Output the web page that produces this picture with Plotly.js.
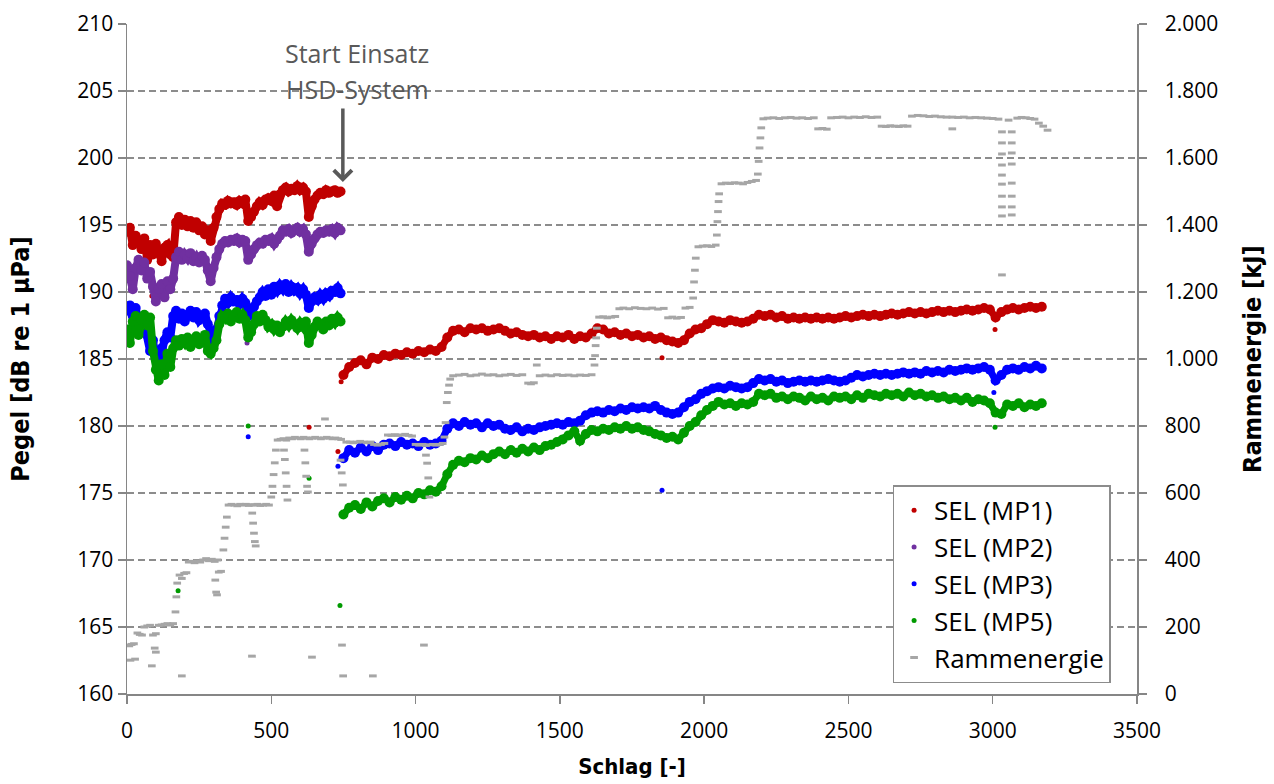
<!DOCTYPE html>
<html>
<head>
<meta charset="utf-8">
<script src="https://cdn.plot.ly/plotly-3.0.1.min.js"></script>
<style>
html,body{margin:0;padding:0;background:#fff;}
#chart{width:1274px;height:784px;}
</style>
</head>
<body>
<div id="chart"></div>
<script>
// ---- Schlag (strike number) grids ----
const schlag1 = [0,10,20,30,40,50,60,70,80,90,100,110,120,130,140,150,160,170,180,190,
  200,210,220,230,240,250,260,270,280,290,300,310,320,330,340,350,360,370,380,390,
  400,410,420,430,440,450,460,470,480,490,500,510,520,530,540,550,560,570,580,590,
  600,610,620,630,640,650,660,670,680,690,700,710,720,730,740];

const schlag2 = [750,770,790,810,830,850,870,890,910,930,
  950,970,990,1010,1030,1050,1070,1090,1110,1130,
  1150,1170,1190,1210,1230,1250,1270,1290,1310,1330,
  1350,1370,1390,1410,1430,1450,1470,1490,1510,1530,
  1550,1570,1590,1610,1630,1650,1670,1690,1710,1730,
  1750,1770,1790,1810,1830,1850,1870,1890,1910,1930,
  1950,1970,1990,2010,2030,2050,2070,2090,2110,2130,
  2150,2170,2190,2210,2230,2250,2270,2290,2310,2330,
  2350,2370,2390,2410,2430,2450,2470,2490,2510,2530,
  2550,2570,2590,2610,2630,2650,2670,2690,2710,2730,
  2750,2770,2790,2810,2830,2850,2870,2890,2910,2930,
  2950,2970,2990,3010,3030,3050,3070,3090,3110,3130,
  3150,3170];

// ---- SEL values, before HSD system (dB re 1 µPa) ----
const sel_mp1_a = [194.5,194.8,193.5,194.2,193.8,193.2,194.0,192.4,193.5,192.8,
  193.6,193.0,192.3,193.3,193.5,192.8,192.6,195.2,195.6,195.0,
  195.4,194.9,195.3,194.8,195.2,194.6,194.9,194.3,194.6,193.8,
  194.8,195.6,196.2,196.6,196.5,196.8,196.6,196.7,196.5,196.8,
  196.6,196.9,195.3,195.6,196.0,196.4,196.7,196.5,196.9,197.0,
  196.8,197.2,196.4,197.3,197.6,197.8,197.5,197.7,197.6,197.9,
  197.6,197.8,197.5,195.6,196.4,196.9,197.2,197.4,197.3,197.6,
  197.4,197.5,197.6,197.4,197.5];
const sel_mp2_a = [192.0,191.2,190.2,191.8,192.4,191.6,192.2,191.0,191.5,190.4,
  189.3,190.2,190.6,189.6,190.8,190.2,191.0,192.6,193.0,192.4,
  192.8,192.5,192.9,192.3,192.6,192.2,192.7,192.4,191.6,190.8,
  191.8,192.6,193.2,193.6,193.8,193.7,193.9,193.8,194.0,193.7,
  193.9,193.8,192.4,192.8,193.2,193.5,193.7,193.6,193.9,193.8,
  194.0,193.6,193.9,194.2,194.6,194.5,194.7,194.4,194.6,194.8,
  194.5,194.7,194.3,193.0,193.6,194.0,194.3,194.5,194.4,194.6,
  194.5,194.7,194.4,194.8,194.6];
const sel_mp3_a = [188.6,189.0,188.2,188.8,187.8,187.2,187.6,186.8,185.6,186.4,
  185.0,184.6,185.8,186.4,187.0,186.6,188.2,188.6,188.0,188.4,
  187.8,188.3,188.6,188.1,188.5,187.9,188.2,188.4,187.6,186.8,
  186.4,187.2,188.2,189.0,189.5,189.2,189.6,189.3,189.4,189.1,
  189.5,189.2,188.2,188.6,188.9,189.3,189.6,190.0,189.7,190.2,
  189.8,190.4,190.1,190.5,190.2,190.6,190.0,190.4,190.1,190.3,
  189.9,190.2,189.8,188.8,189.3,189.6,189.4,189.8,189.5,189.9,
  189.7,190.1,190.0,190.3,189.9];
const sel_mp5_a = [187.2,186.2,187.8,188.2,186.8,187.9,188.3,187.5,188.1,185.6,
  184.2,183.4,184.6,183.8,185.4,184.4,185.8,186.4,186.0,186.5,
  186.2,186.6,185.9,186.3,186.7,186.1,186.5,186.8,185.6,185.4,
  185.8,186.4,187.6,188.2,188.0,188.4,187.8,188.2,188.5,188.0,
  188.3,187.9,186.6,187.0,187.6,188.2,187.8,188.3,187.9,187.4,
  187.6,187.2,187.5,187.0,187.4,187.8,187.5,187.9,187.6,187.3,
  187.7,187.4,187.8,186.2,186.8,187.4,187.8,187.5,187.2,187.8,
  187.5,188.0,187.7,188.1,187.8];

// ---- SEL values, with HSD system ----
const sel_mp1_b = [183.8,184.4,184.7,184.9,184.6,185.1,185.0,185.3,185.2,185.4,
  185.3,185.5,185.4,185.6,185.5,185.7,185.6,185.9,186.6,187.1,
  187.2,187.0,187.3,187.2,187.3,187.1,187.2,187.3,187.1,186.9,
  187.0,186.8,186.7,186.8,186.6,186.7,186.5,186.7,186.6,186.8,
  186.5,186.7,186.6,186.9,187.3,187.2,186.9,187.0,186.8,186.9,
  186.7,186.8,186.6,186.7,186.5,186.6,186.4,186.3,186.2,186.4,
  186.9,187.2,187.3,187.6,187.9,187.8,187.7,187.9,187.8,187.7,
  187.8,188.0,188.3,188.2,188.3,188.1,188.2,188.0,188.1,188.0,
  188.1,188.0,188.1,188.0,188.1,188.0,188.1,188.2,188.1,188.2,
  188.3,188.2,188.3,188.2,188.3,188.4,188.3,188.4,188.5,188.4,
  188.5,188.4,188.5,188.6,188.5,188.6,188.5,188.6,188.7,188.6,
  188.7,188.8,188.7,188.1,188.5,188.7,188.8,188.7,188.8,188.9,
  188.8,188.9];
const sel_mp3_b = [177.6,178.2,178.0,178.4,178.1,178.5,178.2,178.6,178.7,178.5,
  178.8,178.6,178.7,178.5,178.8,178.6,178.7,178.9,179.8,180.2,
  180.0,180.3,180.1,180.2,179.9,180.2,180.0,180.1,179.8,179.7,
  179.9,179.6,179.8,179.7,179.9,180.0,180.1,180.2,180.1,180.3,
  180.2,180.4,180.8,181.0,181.1,181.0,181.2,181.1,181.3,181.2,
  181.4,181.3,181.4,181.3,181.5,181.2,181.0,180.9,181.0,181.4,
  181.8,182.0,182.4,182.6,182.8,182.9,182.8,183.0,182.9,182.8,
  182.9,183.2,183.5,183.4,183.5,183.3,183.4,183.2,183.3,183.4,
  183.3,183.4,183.3,183.4,183.5,183.4,183.3,183.4,183.6,183.8,
  183.7,183.8,183.9,183.8,183.9,183.8,183.9,184.0,183.9,184.0,
  183.9,184.1,184.0,184.1,184.0,184.2,184.1,184.2,184.3,184.2,
  184.3,184.4,184.2,183.4,183.8,184.2,184.3,184.2,184.4,184.3,
  184.5,184.3];
const sel_mp5_b = [173.4,173.9,174.1,173.8,174.3,174.0,174.4,174.6,174.3,174.7,
  174.5,174.8,174.6,175.0,174.9,175.2,175.1,175.5,176.4,177.1,
  177.4,177.3,177.6,177.5,177.8,177.6,177.9,178.1,177.9,178.2,
  178.0,178.3,178.1,178.4,178.2,178.5,178.6,178.8,179.0,179.3,
  179.6,178.9,179.4,179.7,179.6,179.8,179.7,179.9,179.8,180.0,
  179.8,179.9,179.7,179.6,179.4,179.3,179.1,179.2,179.0,179.5,
  180.0,180.3,180.8,181.2,181.5,181.8,181.6,181.7,181.5,181.7,
  181.6,181.8,182.4,182.3,182.4,182.1,182.2,182.0,182.2,182.1,
  181.9,182.2,182.0,182.1,181.9,182.2,182.1,182.2,182.0,182.3,
  182.1,182.4,182.3,182.2,182.4,182.3,182.4,182.2,182.5,182.3,
  182.4,182.2,182.3,182.1,182.2,182.0,182.1,181.9,182.1,181.8,
  182.0,181.9,181.7,181.0,180.9,181.6,181.5,181.7,181.4,181.6,
  181.5,181.7];

// ---- isolated SEL readings ----
const out_mp1_x = [86, 415, 631, 731, 742, 1854, 3008];
const out_mp1_y = [189.7, 188.5, 179.9, 178.1, 183.3, 185.1, 187.2];
const out_mp2_x = [416];
const out_mp2_y = [186.2];
const out_mp3_x = [420, 731, 1854, 3004];
const out_mp3_y = [179.2, 177.0, 175.2, 182.5];
const out_mp5_x = [177, 420, 631, 738, 3008];
const out_mp5_y = [167.7, 180.0, 176.1, 166.6, 179.9];

// ---- Rammenergie (kJ) ----
const ram_schlag = [0,8,16,24,12,28,36,44,52,60,
  70,80,90,100,110,120,130,140,150,96,
  100,86,160,168,171,174,182,190,198,206,
  214,224,234,244,254,264,274,284,294,304,
  314,306,309,312,318,326,334,338,342,346,
  352,362,372,382,392,402,412,422,432,442,
  452,462,472,482,492,434,437,440,443,446,
  500,504,508,512,516,522,532,542,552,562,
  572,582,592,602,612,622,632,642,652,662,
  672,682,692,702,712,722,732,742,544,547,
  550,553,556,615,618,621,624,627,686,740,
  744,748,760,772,784,796,808,820,832,844,
  856,868,880,892,904,916,928,940,952,964,
  976,988,1000,1012,1024,1036,1048,1060,1072,1084,
  1094,1036,1040,1044,1048,1100,1104,1108,1112,1116,
  1120,1130,1150,1170,1190,1210,1230,1250,1270,1290,
  1310,1330,1350,1370,1390,1400,1410,1420,1430,1450,
  1470,1490,1510,1530,1550,1570,1590,1610,1620,1622,
  1624,1626,1628,1636,1650,1664,1678,1692,1706,1720,
  1740,1760,1780,1800,1820,1840,1860,1875,1890,1905,
  1920,1935,1950,1962,1965,1968,1971,1980,1995,2010,
  2025,2040,2044,2046,2048,2050,2052,2060,2075,2090,
  2105,2120,2135,2150,2165,2180,2186,2189,2192,2195,
  2198,2205,2220,2240,2260,2280,2300,2320,2340,2360,
  2380,2395,2410,2425,2440,2460,2480,2500,2520,2540,
  2560,2580,2600,2615,2630,2645,2660,2675,2690,2705,
  2720,2740,2760,2780,2800,2820,2840,2860,2860,2880,
  2900,2920,2940,2960,2980,3000,3020,3032,3032,3032,
  3032,3032,3032,3032,3032,3032,3032,3066,3066,3066,
  3066,3066,3066,3066,3066,3055,3085,3100,3115,3130,
  3145,3160,3175,3190,190,433,641,745,749,852,
  1029];
const ram_energie = [146,144,148,150,101,104,182,178,176,200,
  203,205,176,180,205,206,208,210,206,137,
  125,84,210,245,290,331,355,345,360,362,
  394,396,392,397,394,400,404,398,402,396,
  400,340,304,296,364,366,430,465,498,528,
  564,566,564,562,566,564,566,563,565,564,
  566,563,564,566,564,540,510,480,455,442,
  588,620,655,690,728,758,760,762,758,764,
  762,766,764,762,766,764,762,764,766,764,
  762,764,766,764,762,764,762,760,728,700,
  660,620,579,728,690,650,620,603,821,698,
  660,624,752,752,750,752,754,752,750,752,
  745,743,745,748,773,772,774,772,773,775,
  772,770,745,743,745,742,744,745,743,745,
  748,713,689,645,588,767,810,870,900,922,
  940,950,952,954,950,952,955,952,953,950,
  952,954,951,953,928,926,929,982,950,952,
  950,953,951,952,950,952,951,953,982,1010,
  1040,1063,1092,1125,1126,1123,1125,1127,1150,1152,
  1150,1153,1151,1150,1152,1149,1151,1123,1125,1122,
  1124,1152,1154,1182,1230,1265,1301,1335,1337,1338,
  1336,1340,1370,1410,1440,1470,1493,1523,1525,1524,
  1526,1525,1523,1527,1530,1533,1552,1590,1630,1660,
  1690,1717,1719,1720,1718,1720,1721,1719,1720,1718,
  1720,1687,1688,1686,1720,1721,1722,1720,1722,1721,
  1723,1721,1722,1695,1694,1696,1695,1694,1696,1695,
  1725,1727,1726,1724,1725,1723,1722,1687,1722,1721,
  1722,1720,1721,1720,1719,1718,1716,1678,1645,1612,
  1579,1549,1522,1486,1454,1427,1251,1678,1645,1615,
  1582,1525,1486,1454,1430,1713,1719,1721,1720,1718,
  1716,1704,1695,1683,54,113,110,146,54,54,
  146];

const seriesNames = ['SEL (MP1)','SEL (MP2)','SEL (MP3)','SEL (MP5)','Rammenergie'];
const colors = ['#C00000','#7030A0','#0000FF','#009A00','#A6A6A6'];

const sets = [
  {xs:[schlag1, schlag2], ys:[sel_mp1_a, sel_mp1_b], ox:out_mp1_x, oy:out_mp1_y},
  {xs:[schlag1], ys:[sel_mp2_a], ox:out_mp2_x, oy:out_mp2_y},
  {xs:[schlag1, schlag2], ys:[sel_mp3_a, sel_mp3_b], ox:out_mp3_x, oy:out_mp3_y},
  {xs:[schlag1, schlag2], ys:[sel_mp5_a, sel_mp5_b], ox:out_mp5_x, oy:out_mp5_y}
];

const traces = [];
// small markers (legend entries + isolated readings)
sets.forEach((s, i) => {
  let x = [], y = [];
  s.xs.forEach((a, k) => { x = x.concat(a); y = y.concat(s.ys[k]); });
  x = x.concat(s.ox); y = y.concat(s.oy);
  traces.push({
    type:'scatter', mode:'markers', x:x, y:y, name:seriesNames[i],
    legendgroup:'g'+i, showlegend:true,
    marker:{color:colors[i], size:5}, hoverinfo:'skip'
  });
});
// dense point bands
sets.forEach((s, i) => {
  s.xs.forEach((a, k) => {
    traces.push({
      type:'scatter', mode:'lines+markers', x:a, y:s.ys[k], name:seriesNames[i],
      legendgroup:'g'+i, showlegend:false,
      line:{color:colors[i], width:(k === 0 ? 8 : 7)},
      marker:{color:colors[i], size:(k === 0 ? 10 : 10)}, hoverinfo:'skip'
    });
  });
});
// Rammenergie on secondary axis
traces.push({
  type:'scatter', mode:'markers', x:ram_schlag, y:ram_energie, yaxis:'y2',
  name:seriesNames[4], legendgroup:'g4', showlegend:true,
  marker:{symbol:'line-ew', size:5.5, color:colors[4], line:{color:colors[4], width:3}},
  hoverinfo:'skip'
});

const axisLine = '#868686';
const tickFont = {family:'Open Sans, Liberation Sans, sans-serif', size:21, color:'#000'};
const titleFont = {family:'DejaVu Sans Condensed, DejaVu Sans, sans-serif', size:25, color:'#000', weight:700};
const textFont = 'Open Sans, Liberation Sans, sans-serif';

const layout = {
  width:1274, height:784,
  margin:{l:127, r:137, t:24, b:90},
  paper_bgcolor:'#ffffff', plot_bgcolor:'#ffffff',
  separators:',.',
  xaxis:{
    range:[0,3500], dtick:500, tick0:0, tickformat:'d',
    showgrid:false, zeroline:false, showline:true, linecolor:axisLine, linewidth:1.5,
    ticks:'outside', ticklen:8, tickcolor:axisLine, tickwidth:1.5,
    ticklabelstandoff:9,
    tickfont:tickFont,
    title:{text:'Schlag [-]', font:Object.assign({}, titleFont, {size:22}), standoff:16}
  },
  yaxis:{
    range:[160,210], dtick:5, tick0:160,
    showgrid:true, gridcolor:'#8c8c8c', gridwidth:1.3, griddash:'7px,4px',
    zeroline:false, showline:true, linecolor:axisLine, linewidth:1.5,
    ticks:'outside', ticklen:8, tickcolor:axisLine, tickwidth:1.5,
    tickfont:tickFont,
    title:{text:'Pegel [dB re 1 µPa]', font:titleFont, standoff:40}
  },
  yaxis2:{
    overlaying:'y', side:'right', anchor:'x',
    range:[0,2000], dtick:200, tick0:0, tickformat:',d',
    showgrid:false, zeroline:false, showline:true, linecolor:axisLine, linewidth:1.5,
    ticks:'outside', ticklen:8, tickcolor:axisLine, tickwidth:1.5,
    ticklabelstandoff:14,
    tickfont:tickFont,
    title:{text:'Rammenergie [kJ]', font:titleFont, standoff:26}
  },
  showlegend:true,
  legend:{
    x:0.758, y:0.016, xanchor:'left', yanchor:'bottom',
    bgcolor:'#ffffff', bordercolor:'#8c8c8c', borderwidth:1.5,
    font:{family:textFont, size:26, color:'#000'},
    traceorder:'grouped', tracegroupgap:0, itemsizing:'trace'
  },
  annotations:[
    {xref:'paper', yref:'paper', x:(357-127)/1010, y:(694-53)/670, text:'Start Einsatz',
     showarrow:false, xanchor:'center', yanchor:'middle',
     font:{family:textFont, size:25, color:'#595959'}},
    {xref:'paper', yref:'paper', x:(357-127)/1010, y:(694-89)/670, text:'HSD-System',
     showarrow:false, xanchor:'center', yanchor:'middle',
     font:{family:textFont, size:25, color:'#595959'}},
    {xref:'x', yref:'y', x:748, y:198.2, text:'', showarrow:true,
     ax:0, ay:-75, arrowhead:4, arrowsize:1, arrowwidth:3.5, arrowcolor:'#595959', standoff:0}
  ]
};

Plotly.newPlot('chart', traces, layout, {displayModeBar:false, staticPlot:true});
</script>
</body>
</html>
